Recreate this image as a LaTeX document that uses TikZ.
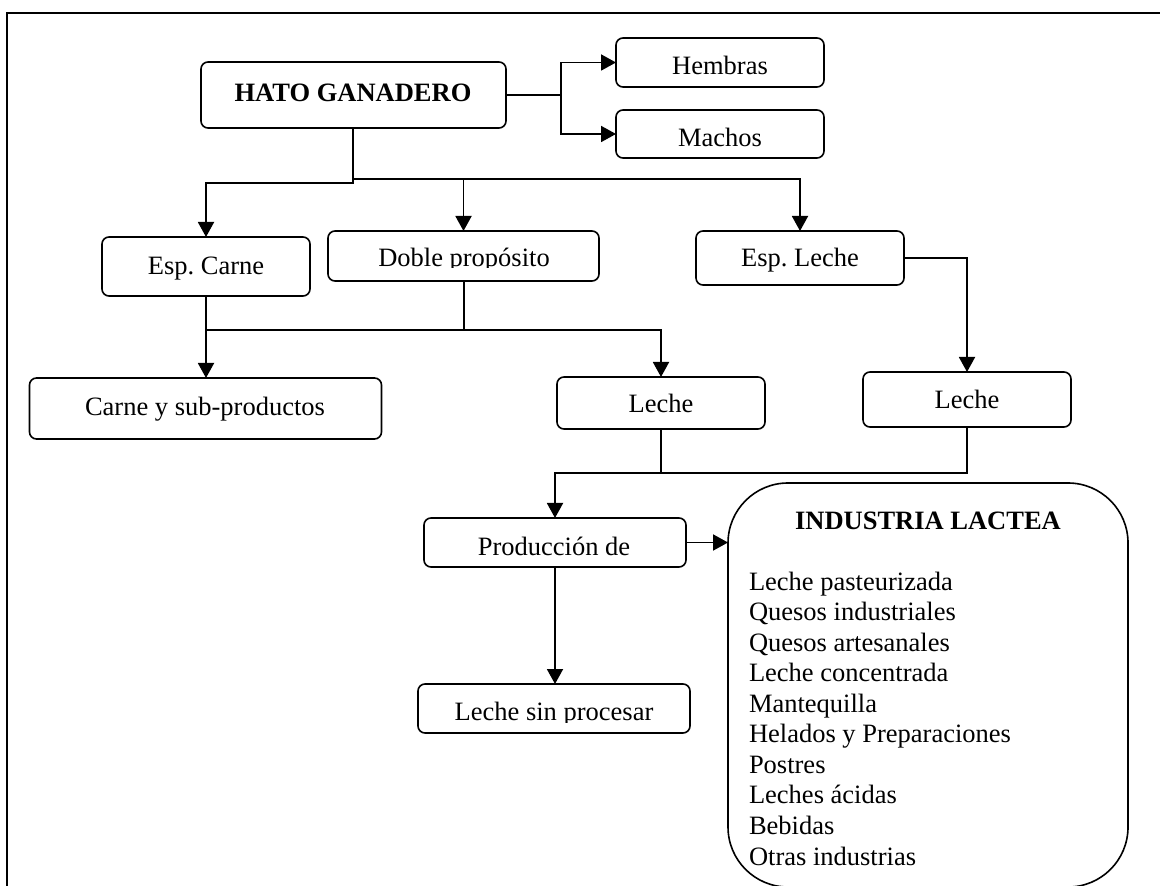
\documentclass[tikz,border=0pt]{standalone}
\usepackage{fontspec}
\setmainfont{Liberation Serif}
\usetikzlibrary{arrows.meta}
\frenchspacing
\begin{document}
\begin{tikzpicture}[x=0.5pt,y=-0.5pt,
  font=\fontsize{13.25}{15.3}\selectfont,
  box/.style={draw, rounded corners=3.5pt, line width=0.8pt, inner sep=0pt, outer sep=0pt},
  txt/.style={inner sep=0pt, outer sep=0pt, anchor=base},
  itm/.style={inner sep=0pt, outer sep=0pt, anchor=base west},
  con/.style={line width=0.95pt},
  arr/.style={con, -{Triangle[length=7.5pt,width=8pt]}}]
\useasboundingbox (0,0) rectangle (1160,886);
\clip (0,0) rectangle (1160,886);
% outer frame (only top and left edges fall inside the picture)
\draw[line width=1.1pt] (7,13) rectangle (1220,950);

% boxes
\node[box, minimum width=152.5pt, minimum height=33pt]   (hato)     at (353.5,95)  {};
\node[box, minimum width=104pt,   minimum height=24.5pt] (hembras)  at (720,62.5)  {};
\node[box, minimum width=104pt,   minimum height=24pt]   (machos)   at (720,134)   {};
\node[box, minimum width=104pt,   minimum height=29.5pt] (espcarne) at (206,266.5) {};
\node[box, minimum width=135.5pt, minimum height=25pt]   (doble)    at (463.5,256) {};
\node[box, minimum width=104pt,   minimum height=27pt]   (espleche) at (800,258)   {};
\node[box, minimum width=176pt,   minimum height=30.5pt] (carne)    at (205.5,408.5) {};
\node[box, minimum width=104pt,   minimum height=26pt]   (lecheA)   at (661,403)   {};
\node[box, minimum width=104pt,   minimum height=27.5pt] (lecheB)   at (967,399.5) {};
\node[box, minimum width=131pt,   minimum height=24.5pt] (prod)     at (555,542.5) {};
\node[box, minimum width=136pt,   minimum height=24.5pt] (lsp)      at (554,708.5) {};
\node[box, rounded corners=30pt, minimum width=200pt, minimum height=202pt] (ind) at (928,685) {};

% texts
\node[txt] (hatoT)     at (353,102)   {\textbf{HATO GANADERO}};
\node[txt] (hembrasT)  at (720,75)    {Hembras};
\node[txt] (machosT)   at (720,147)   {Machos};
\node[txt] (espcarneT) at (206,275)   {Esp. Carne};
\begin{scope}
  \clip (330,235) rectangle (597,268);
  \node[txt] (dobleT) at (464,266.5) {Doble propósito};
\end{scope}
\node[txt] (esplecheT) at (800,267)   {Esp. Leche};
\node[txt] (carneT)    at (205,416)   {Carne y sub-productos};
\node[txt] (lecheAT)   at (661,413)   {Leche};
\node[txt] (lecheBT)   at (967,409)   {Leche};
\node[txt] (prodT)     at (554,555)   {Producción de};
\begin{scope}
  \clip (420,688) rectangle (688,722);
  \node[txt] (lspT) at (554,720.5) {Leche sin procesar};
\end{scope}
\node[txt] (indT)      at (928,530)   {\textbf{INDUSTRIA LACTEA}};
\foreach \t [count=\i from 0] in {Leche pasteurizada, Quesos industriales, Quesos artesanales,
  Leche concentrada, Mantequilla, Helados y Preparaciones, Postres, Leches ácidas, Bebidas,
  Otras industrias}
  \node[itm] (item\i) at (749,{590+\i*30.56}) {\t};

% connectors
\coordinate (jh) at (561,95);
\draw[con] (hato.east) -- (jh);
\draw[arr] (jh) |- (hembras.west);
\draw[arr] (jh) |- (machos.west);

\coordinate (b1) at (353,183);
\coordinate (b2) at (353,179);
\draw[arr] (hato.south -| b1) -- (b1) -| (espcarne.north);
\draw[arr] (b2) -| (doble.north);
\draw[arr] (b2) -| (espleche.north);

\coordinate (b3) at (464,330);
\draw[con] (doble.south -| b3) -- (b3);
\draw[con] (b3) -- (espcarne.south |- b3);
\draw[arr] (espcarne.south) -- (espcarne.south |- carne.north);
\draw[arr] (b3) -| (lecheA.north);

\draw[arr] (espleche.east) -| (lecheB.north);

\coordinate (b4) at (661,473);
\draw[con] (lecheA.south) -- (b4);
\draw[con] (lecheB.south) |- (b4);
\draw[arr] (b4) -| (prod.north);

\draw[arr] (prod.east) -- (prod.east -| ind.west);
\draw[arr] (prod.south) -- (prod.south |- lsp.north);
\end{tikzpicture}
\end{document}
